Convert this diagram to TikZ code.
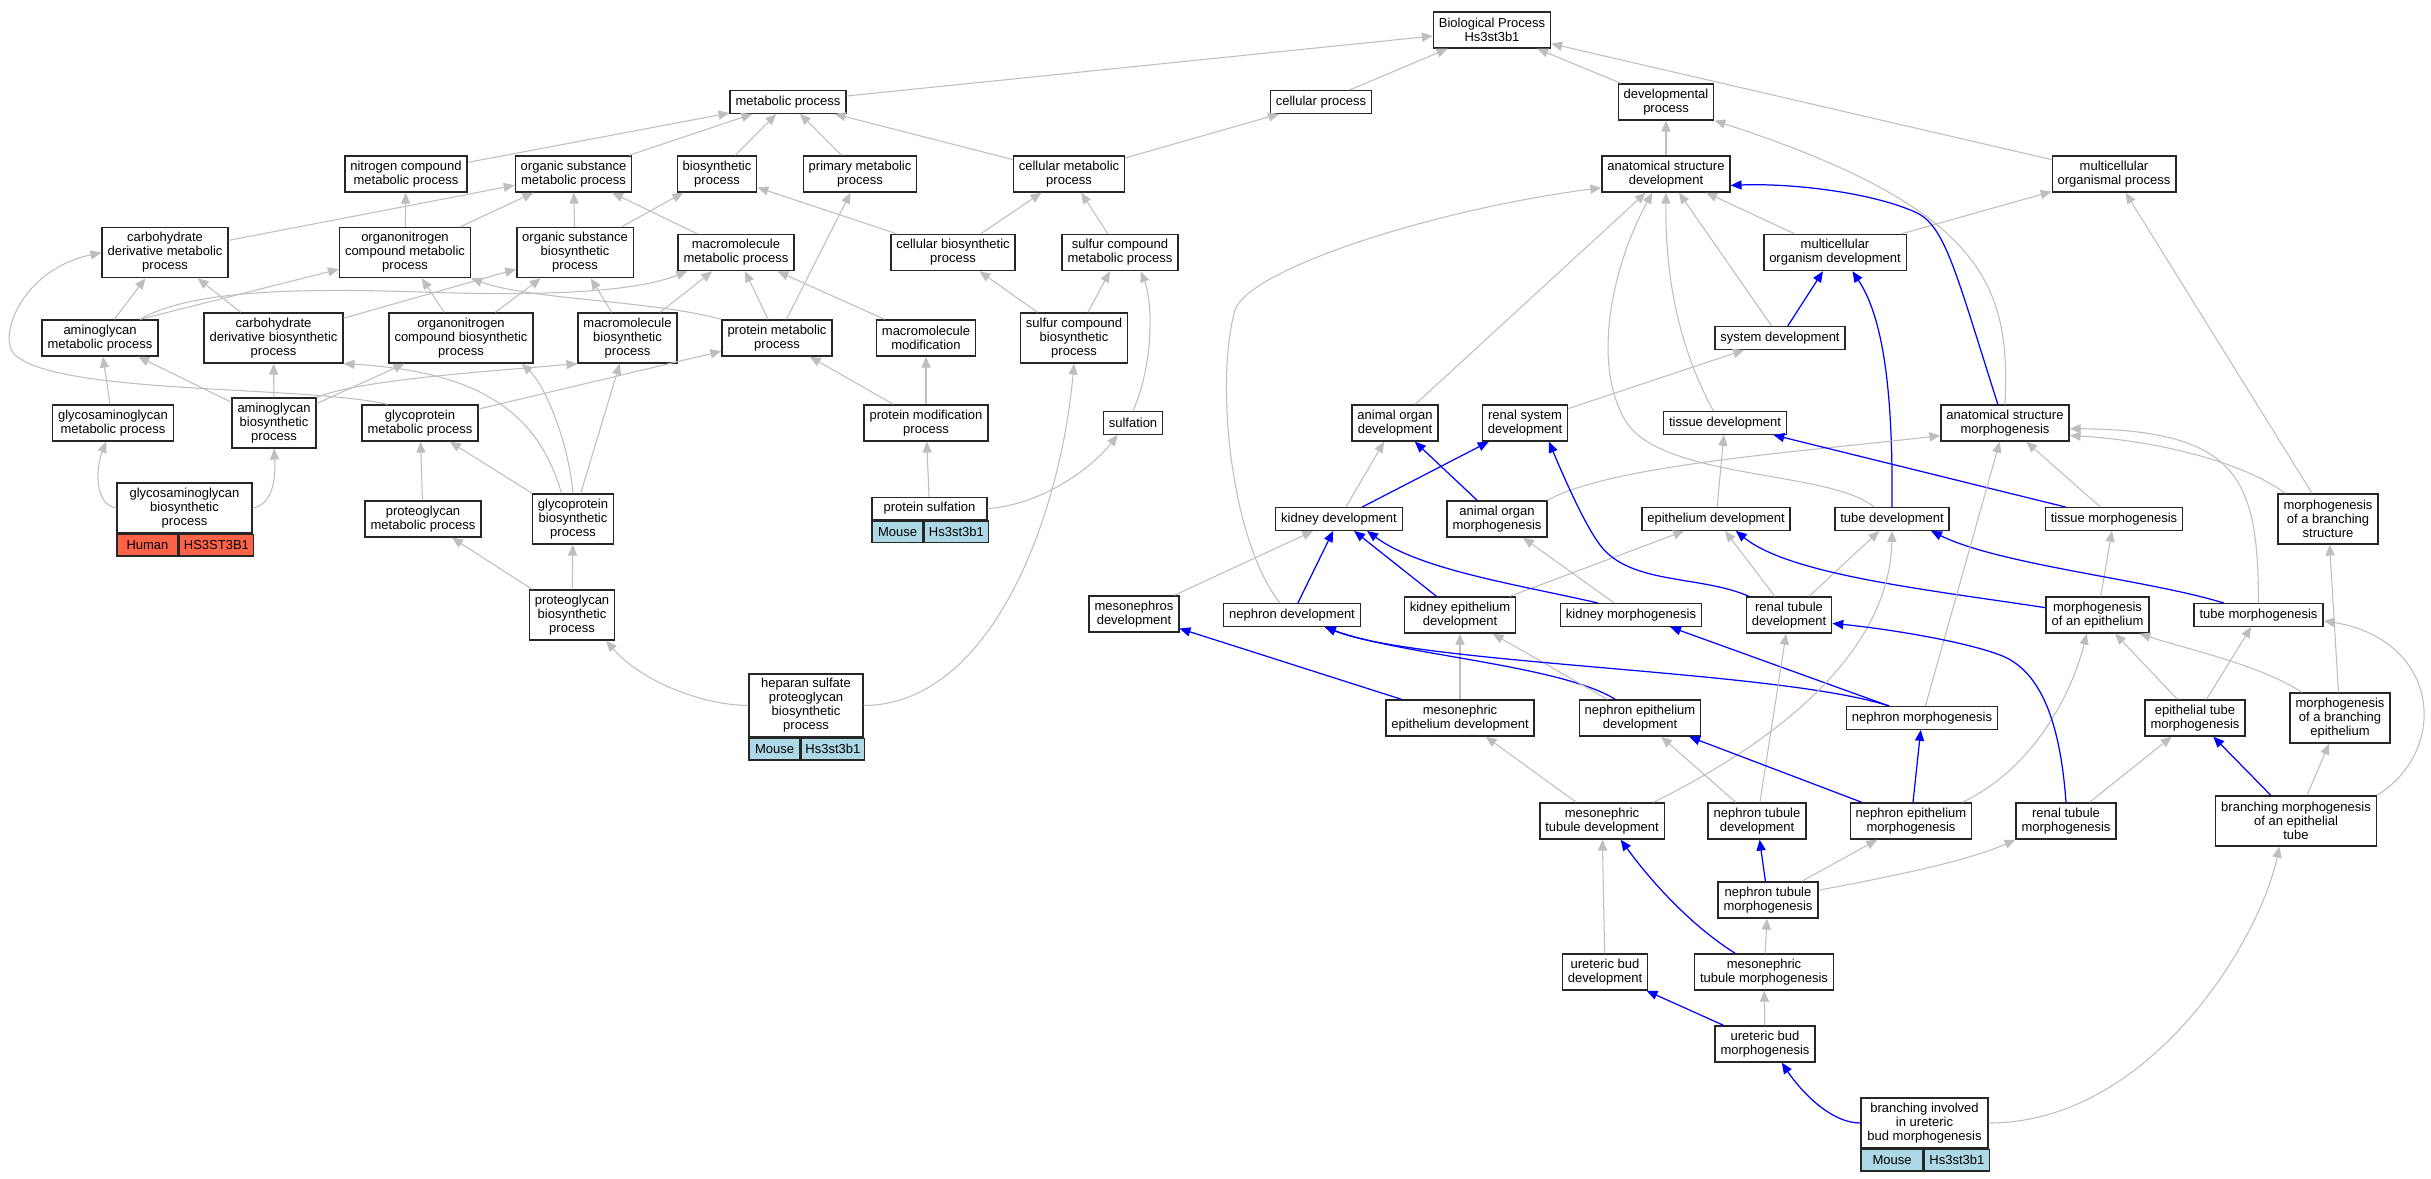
\documentclass[tikz,border=0pt]{standalone}
\usepackage{fontspec}
\setmainfont{Liberation Sans}
\usepackage{xcolor}
\usetikzlibrary{arrows.meta,positioning}
\definecolor{edgegray}{RGB}{190,190,190}
\definecolor{humanred}{RGB}{255,99,71}
\definecolor{mouseblue}{RGB}{173,216,230}
\newcommand{\gofont}{\fontsize{7.4pt}{7.95pt}\selectfont}

\begin{document}
\begin{tikzpicture}[x=0.02cm, y=-0.02cm,
    term/.style={draw=black!85, line width=0.8pt, fill=white, inner xsep=3.1pt, inner ysep=0pt, align=center, font=\gofont},
    one/.style={term, minimum height=0.45cm},
    two/.style={term, minimum height=0.72cm},
    three/.style={term, minimum height=1.0cm},
    four/.style={term, minimum height=1.26cm},
    tag/.style={draw=black!85, line width=0.8pt, inner sep=0pt, minimum height=0.43cm, font=\gofont},
    isa/.style={draw=edgegray, line width=0.6pt, -{Triangle[length=6.2pt,width=5.2pt]}},
    partof/.style={draw=blue, line width=0.7pt, -{Triangle[length=6.2pt,width=5.2pt]}}]
\useasboundingbox (0,0) rectangle (2431,1179);

% terms, top to bottom
\node[two] (bp) at (1492,30) {Biological Process\\Hs3st3b1};
\node[one] (metab) at (788,102) {metabolic process};
\node[one] (cellproc) at (1321,102) {cellular process};
\node[two] (devproc) at (1666,102) {developmental\\process};
\node[two] (nitro) at (406,174) {nitrogen compound\\metabolic process};
\node[two] (orgsub) at (573.5,174) {organic substance\\metabolic process};
\node[two] (biosyn) at (717,174) {biosynthetic\\process};
\node[two] (primary) at (860,174) {primary metabolic\\process};
\node[two] (cellmet) at (1069,174) {cellular metabolic\\process};
\node[two] (asdev) at (1666,174) {anatomical structure\\development};
\node[two] (mcop) at (2114,174) {multicellular\\organismal process};
\node[three] (carbmet) at (165,252.6) {carbohydrate\\derivative metabolic\\process};
\node[three] (orgnmet) at (405,252.6) {organonitrogen\\compound metabolic\\process};
\node[three] (orgsubbio) at (575,252.6) {organic substance\\biosynthetic\\process};
\node[two] (macromet) at (736,252.6) {macromolecule\\metabolic process};
\node[two] (cellbio) at (953,252.6) {cellular biosynthetic\\process};
\node[two] (sulfmet) at (1120,252.6) {sulfur compound\\metabolic process};
\node[two] (mcod) at (1835,252.6) {multicellular\\organism development};
\node[two] (aminomet) at (100,338) {aminoglycan\\metabolic process};
\node[three] (carbbio) at (273.5,338) {carbohydrate\\derivative biosynthetic\\process};
\node[three] (orgnbio) at (461,338) {organonitrogen\\compound biosynthetic\\process};
\node[three] (macrobio) at (627.5,338) {macromolecule\\biosynthetic\\process};
\node[two] (protmet) at (777,338) {protein metabolic\\process};
\node[two] (macromod) at (926,338) {macromolecule\\modification};
\node[three] (sulfbio) at (1074,338) {sulfur compound\\biosynthetic\\process};
\node[one] (sysdev) at (1780,338) {system development};
\node[two] (gagmet) at (113,423) {glycosaminoglycan\\metabolic process};
\node[three] (aminobio) at (274,423) {aminoglycan\\biosynthetic\\process};
\node[two] (glycomet) at (420,423) {glycoprotein\\metabolic process};
\node[two] (protmod) at (926,423) {protein modification\\process};
\node[one] (sulfation) at (1133,423) {sulfation};
\node[two] (aodev) at (1395,423) {animal organ\\development};
\node[two] (rsdev) at (1525,423) {renal system\\development};
\node[one] (tisdev) at (1725,423) {tissue development};
\node[two] (asmorph) at (2005,423) {anatomical structure\\morphogenesis};
\node[three, minimum width=2.7cm] (gagbio) at (184.5,508) {glycosaminoglycan\\biosynthetic\\process};
\node[tag, fill=humanred, minimum width=1.22cm, anchor=north west] (gagbioA) at (gagbio.south west) {Human};
\node[tag, fill=humanred, minimum width=1.48cm, right=0pt of gagbioA] (gagbioB) {HS3ST3B1};
\node[two] (pgmet) at (423,519) {proteoglycan\\metabolic process};
\node[three] (glycobio) at (573,519) {glycoprotein\\biosynthetic\\process};
\node[one, minimum width=2.3cm] (protsulf) at (929.5,508.5) {protein sulfation};
\node[tag, fill=mouseblue, minimum width=1.02cm, anchor=north west] (protsulfA) at (protsulf.south west) {Mouse};
\node[tag, fill=mouseblue, minimum width=1.28cm, right=0pt of protsulfA] (protsulfB) {Hs3st3b1};
\node[one] (kiddev) at (1339,519) {kidney development};
\node[two] (aomorph) at (1497,519) {animal organ\\morphogenesis};
\node[one] (epidev) at (1716,519) {epithelium development};
\node[one] (tubedev) at (1892,519) {tube development};
\node[one] (tismorph) at (2114,519) {tissue morphogenesis};
\node[three] (mbs) at (2328,519) {morphogenesis\\of a branching\\structure};
\node[three] (pgbio) at (572,615) {proteoglycan\\biosynthetic\\process};
\node[two] (mesodev) at (1134,614) {mesonephros\\development};
\node[one] (nephdev) at (1292,615) {nephron development};
\node[two] (kedev) at (1460,615) {kidney epithelium\\development};
\node[one] (kidmorph) at (1631,615) {kidney morphogenesis};
\node[two] (rtdev) at (1789,615) {renal tubule\\development};
\node[two] (moe) at (2097.5,615) {morphogenesis\\of an epithelium};
\node[one] (tubemorph) at (2258.5,615) {tube morphogenesis};
\node[four, minimum width=2.28cm] (hspg) at (806,705.5) {heparan sulfate\\proteoglycan\\biosynthetic\\process};
\node[tag, fill=mouseblue, minimum width=1.02cm, anchor=north west] (hspgA) at (hspg.south west) {Mouse};
\node[tag, fill=mouseblue, minimum width=1.26cm, right=0pt of hspgA] (hspgB) {Hs3st3b1};
\node[two] (meedev) at (1460,718) {mesonephric\\epithelium development};
\node[two] (nedev) at (1640,718) {nephron epithelium\\development};
\node[one] (nephmorph) at (1922,718) {nephron morphogenesis};
\node[two] (etmorph) at (2195,718) {epithelial tube\\morphogenesis};
\node[three] (mbe) at (2340,718) {morphogenesis\\of a branching\\epithelium};
\node[two] (mtdev) at (1602,821) {mesonephric\\tubule development};
\node[two] (ntdev) at (1757,821) {nephron tubule\\development};
\node[two] (nemorph) at (1911,821) {nephron epithelium\\morphogenesis};
\node[two] (rtmorph) at (2066,821) {renal tubule\\morphogenesis};
\node[three] (bmet) at (2296,821) {branching morphogenesis\\of an epithelial\\tube};
\node[two] (ntmorph) at (1768,900) {nephron tubule\\morphogenesis};
\node[two] (ubdev) at (1605,972) {ureteric bud\\development};
\node[two] (mtmorph) at (1764,972) {mesonephric\\tubule morphogenesis};
\node[two] (ubmorph) at (1765,1044) {ureteric bud\\morphogenesis};
\node[three, minimum width=2.54cm] (bibm) at (1924.5,1123) {branching involved\\in ureteric\\bud morphogenesis};
\node[tag, fill=mouseblue, minimum width=1.24cm, anchor=north west] (bibmA) at (bibm.south west) {Mouse};
\node[tag, fill=mouseblue, minimum width=1.30cm, right=0pt of bibmA] (bibmB) {Hs3st3b1};

% metabolic side
\draw[isa] (metab) -- (bp);
\draw[isa] (cellproc) -- (bp);
\draw[isa] (devproc) -- (bp);
\draw[isa] (mcop) -- (bp);
\draw[isa] (nitro) -- (metab);
\draw[isa] (orgsub) -- (metab);
\draw[isa] (biosyn) -- (metab);
\draw[isa] (primary) -- (metab);
\draw[isa] (cellmet) -- (metab);
\draw[isa] (cellmet) -- (cellproc);
\draw[isa] (carbmet) -- (orgsub);
\draw[isa] (orgnmet) -- (nitro);
\draw[isa] (orgnmet) -- (orgsub);
\draw[isa] (orgsubbio) -- (orgsub);
\draw[isa] (orgsubbio) -- (biosyn);
\draw[isa] (macromet) -- (orgsub);
\draw[isa] (cellbio) -- (biosyn);
\draw[isa] (cellbio) -- (cellmet);
\draw[isa] (sulfmet) -- (cellmet);
\draw[isa] (aminomet) -- (carbmet);
\draw[isa] (aminomet.25) -- (orgnmet);
\draw[isa] (aminomet.25) .. controls (190,290) and (300,288) .. (420,292) .. controls (560,297) and (640,290) .. (macromet.-159);
\draw[isa] (carbbio) -- (carbmet);
\draw[isa] (carbbio) -- (orgsubbio);
\draw[isa] (orgnbio) -- (orgnmet);
\draw[isa] (orgnbio) -- (orgsubbio);
\draw[isa] (macrobio) -- (orgsubbio);
\draw[isa] (macrobio) -- (macromet);
\draw[isa] (protmet) -- (macromet);
\draw[isa] (protmet) -- (primary);
\draw[isa] (protmet.north west) .. controls (650,300) and (530,300) .. (orgnmet.south east);
\draw[isa] (macromod) -- (macromet);
\draw[isa] (sulfbio) -- (cellbio);
\draw[isa] (sulfbio) -- (sulfmet);
\draw[isa] (gagmet) -- (aminomet);
\draw[isa] (aminobio) -- (aminomet);
\draw[isa] (aminobio) -- (carbbio);
\draw[isa] (aminobio) -- (orgnbio);
\draw[isa] (aminobio.north east) .. controls (360,380) and (480,372) .. (macrobio.south west);
\draw[isa] (glycomet.150) .. controls (300,385) and (60,395) .. (15,355) .. controls (-3,339) and (20,270) .. (carbmet.west);
\draw[isa] (glycomet) -- (protmet);
\draw[isa] (protmod) -- (protmet);
\draw[isa] (protmod) -- (macromod);
\draw[isa] (gagbio.west) .. controls (95,505) and (95,470) .. (gagmet.-110);
\draw[isa] (gagbio.east) .. controls (272,505) and (276,480) .. (aminobio.south);
\draw[isa] (pgmet) -- (glycomet);
\draw[isa] (glycobio.114) .. controls (540,420) and (490,372) .. (carbbio.south east);
\draw[isa] (glycobio.north) .. controls (568,440) and (545,385) .. (orgnbio.-23);
\draw[isa] (glycobio) -- (macrobio);
\draw[isa] (glycobio) -- (glycomet);
\draw[isa] (protsulf) -- (protmod);
\draw[isa] (protsulf.east) .. controls (1040,505) and (1090,470) .. (sulfation.-142);
\draw[isa] (sulfation.north) .. controls (1155,360) and (1152,300) .. (sulfmet.-42);
\draw[isa] (pgbio) -- (pgmet);
\draw[isa] (pgbio) -- (glycobio);
\draw[isa] (hspg.west) .. controls (700,705) and (640,680) .. (pgbio.-37);
\draw[isa] (hspg.east) .. controls (990,705) and (1060,520) .. (sulfbio.south);

% developmental side
\draw[isa] (asdev) -- (devproc);
\draw[isa] (mcod) -- (asdev);
\draw[isa] (mcod) -- (mcop);
\draw[isa] (sysdev) -- (asdev);
\draw[partof] (sysdev) -- (mcod);
\draw[isa] (tisdev.134) .. controls (1680,350) and (1665,280) .. (asdev.south);
\draw[isa] (nephdev.135) .. controls (1230,540) and (1215,380) .. (1235,310) .. controls (1248,270) and (1430,210) .. (asdev.-168);
\draw[isa] (tubedev.146) .. controls (1830,470) and (1660,480) .. (1625,420) .. controls (1590,360) and (1615,260) .. (asdev.-126);
\draw[isa] (aodev) -- (asdev);
\draw[partof] (asmorph.111) .. controls (1955,270) and (1945,225) .. (1915,212) .. controls (1870,192) and (1790,183) .. (asdev.-10);
\draw[isa] (asmorph.north) .. controls (2010,290) and (1990,210) .. (devproc.-21);
\draw[partof] (tubedev.north) .. controls (1893,400) and (1885,320) .. (mcod.-47);
\draw[isa] (rsdev) -- (sysdev);
\draw[partof] (kiddev) -- (rsdev);
\draw[isa] (kiddev) -- (aodev);
\draw[partof] (aomorph) -- (aodev);
\draw[isa] (aomorph.north east) .. controls (1610,465) and (1800,452) .. (asmorph.-169);
\draw[isa] (epidev) -- (tisdev);
\draw[partof] (tismorph) -- (tisdev);
\draw[isa] (tismorph) -- (asmorph);
\draw[isa] (mbs.149) .. controls (2240,460) and (2150,440) .. (asmorph.-11);
\draw[isa] (mbs) -- (mcop);
\draw[isa] (tubemorph.north) .. controls (2258,480) and (2240,430) .. (asmorph.-5);
\draw[isa] (mesodev) -- (kiddev);
\draw[partof] (nephdev) -- (kiddev);
\draw[partof] (kedev) -- (kiddev);
\draw[isa] (kedev) -- (epidev);
\draw[partof] (kidmorph.160) .. controls (1520,585) and (1420,570) .. (kiddev.-23);
\draw[isa] (kidmorph) -- (aomorph);
\draw[partof] (rtdev.155) .. controls (1700,575) and (1630,585) .. (1600,545) .. controls (1585,525) and (1565,480) .. (rsdev.-38);
\draw[isa] (rtdev) -- (epidev);
\draw[isa] (rtdev) -- (tubedev);
\draw[partof] (moe.172) .. controls (1930,590) and (1790,575) .. (epidev.-31);
\draw[isa] (moe) -- (tismorph);
\draw[partof] (tubemorph.161) .. controls (2150,580) and (2000,565) .. (tubedev.-17);
\draw[partof] (meedev) -- (mesodev);
\draw[isa] (meedev) -- (kedev);
\draw[partof] (nedev.143) .. controls (1560,665) and (1400,655) .. (nephdev.-20);
\draw[isa] (nedev) -- (kedev);
\draw[partof] (nephmorph.160) .. controls (1780,670) and (1420,665) .. (nephdev.-20);
\draw[partof] (nephmorph.160) -- (kidmorph.-17);
\draw[isa] (nephmorph) -- (asmorph);
\draw[isa] (etmorph) -- (moe);
\draw[isa] (etmorph) -- (tubemorph);
\draw[isa] (mbe.146) .. controls (2260,665) and (2190,650) .. (moe.-24);
\draw[isa] (mbe) -- (mbs);
\draw[isa] (mtdev) -- (meedev);
\draw[isa] (mtdev.20) .. controls (1800,730) and (1890,640) .. (tubedev.south);
\draw[isa] (ntdev) -- (rtdev);
\draw[isa] (ntdev) -- (nedev);
\draw[partof] (nemorph) -- (nephmorph);
\draw[partof] (nemorph) -- (nedev);
\draw[isa] (nemorph.20) .. controls (2030,770) and (2070,700) .. (moe.-120);
\draw[partof] (rtmorph.north) .. controls (2060,720) and (2040,670) .. (2000,655) .. controls (1960,640) and (1880,628) .. (rtdev.-11);
\draw[isa] (rtmorph) -- (etmorph);
\draw[partof] (bmet) -- (etmorph);
\draw[isa] (bmet) -- (mbe);
\draw[isa] (bmet.north east) .. controls (2450,750) and (2440,640) .. (tubemorph.-5);
\draw[partof] (ntmorph) -- (ntdev);
\draw[isa] (ntmorph) -- (nemorph);
\draw[isa] (ntmorph.11) .. controls (1900,875) and (1970,860) .. (rtmorph.south west);
\draw[isa] (ubdev) -- (mtdev);
\draw[isa] (mtmorph) -- (ntmorph);
\draw[partof] (mtmorph.147) .. controls (1690,925) and (1650,880) .. (mtdev.-45);
\draw[partof] (ubmorph) -- (ubdev);
\draw[isa] (ubmorph) -- (mtmorph);
\draw[partof] (bibm.west) .. controls (1830,1123) and (1800,1090) .. (ubmorph.-48);
\draw[isa] (bibm.east) .. controls (2150,1123) and (2260,940) .. (bmet.-123);
\end{tikzpicture}
\end{document}
